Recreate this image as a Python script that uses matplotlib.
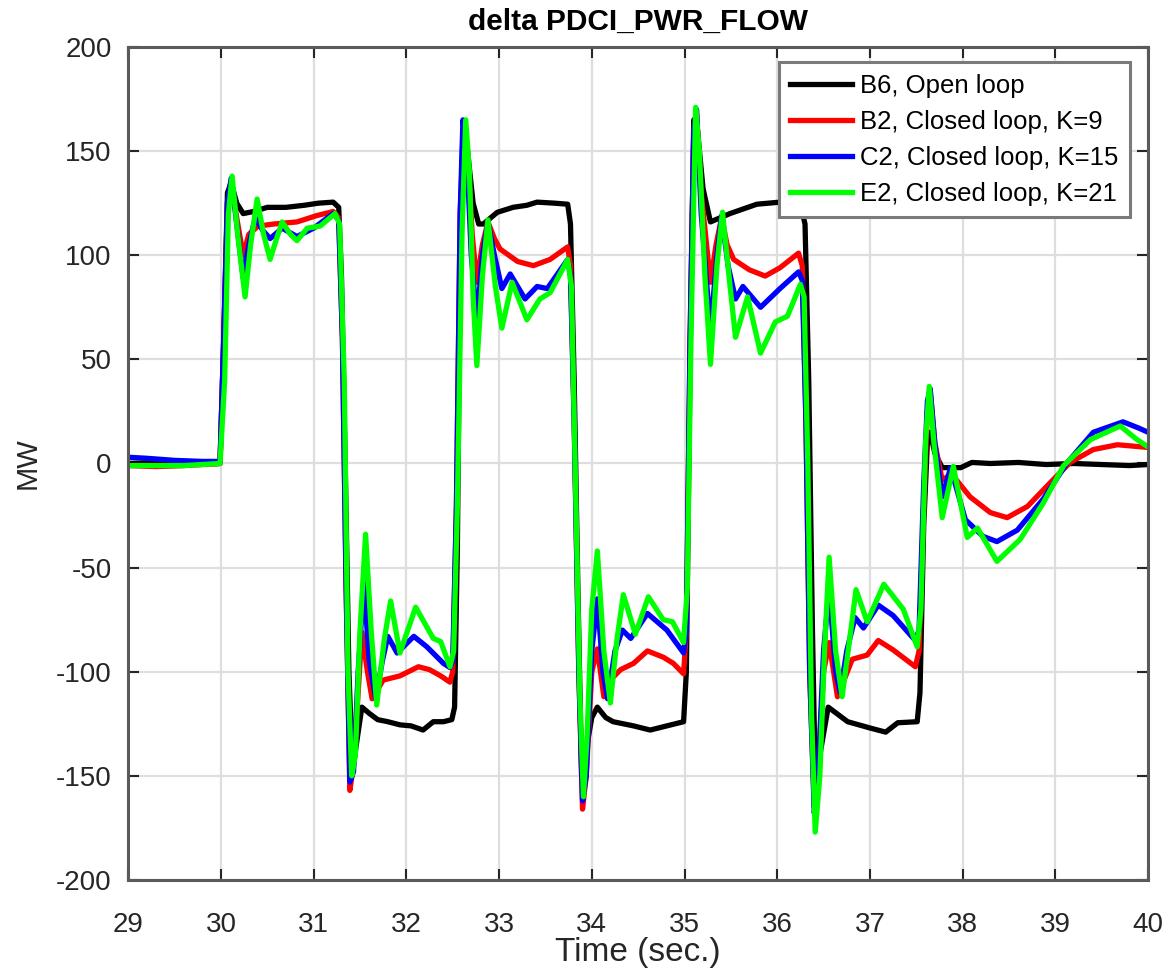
import matplotlib
matplotlib.use("Agg")
import matplotlib.pyplot as plt

# values (time in s, MW)
t_b6 = [29.0, 29.3, 29.6, 29.99, 30.03, 30.07, 30.11, 30.17, 30.24, 30.35, 30.5, 30.7, 30.9, 31.05, 31.21,
        31.27, 31.3, 31.34, 31.38, 31.42, 31.46, 31.52, 31.6, 31.69, 31.8, 31.93, 32.05, 32.18, 32.29, 32.4,
        32.49, 32.52, 32.55, 32.58, 32.61, 32.66, 32.72, 32.78, 32.83, 32.98, 33.15, 33.3, 33.41, 33.6, 33.74,
        33.77, 33.81, 33.85, 33.89, 33.93, 34.0, 34.06, 34.15, 34.23, 34.45, 34.63, 34.81, 34.99, 35.02, 35.06,
        35.1, 35.14, 35.2, 35.28, 35.49, 35.78, 36.03, 36.25, 36.3, 36.34, 36.38, 36.41, 36.46, 36.55, 36.76,
        37.0, 37.17, 37.3, 37.51, 37.54, 37.58, 37.62, 37.65, 37.7, 37.78, 37.98, 38.1, 38.3, 38.6, 38.9,
        39.2, 39.5, 39.8, 40.0]
v_b6 = [0, 0.5, -0.5, 0, 60, 130, 135, 125, 120, 121, 123, 123, 124, 125, 125.5,
        123, 90, 0, -100, -148, -135, -117, -120, -123, -124, -125.5, -126, -128, -124, -124,
        -123, -117, -40, 100, 160, 150, 125, 115, 115, 120.6, 123, 124, 125.5, 125, 124.5,
        115, 40, -60, -150, -140, -122, -117, -122, -124, -126, -128, -126, -124, -100, 50,
        165, 160, 132, 116, 120, 124.5, 125.5, 124.5, 115, 40, -80, -150, -140, -117, -124,
        -127, -129, -124.5, -124, -110, -30, 10, 15, 5, -2, -2, 0.5, 0, 0.5, -0.5,
        0, -0.5, -1, -0.5]

t_b2 = [29.0, 29.3, 29.6, 29.99, 30.03, 30.07, 30.11, 30.17, 30.24, 30.3, 30.4, 30.57, 30.82, 31.03, 31.21,
        31.27, 31.31, 31.35, 31.39, 31.43, 31.48, 31.52, 31.58, 31.63, 31.75, 31.93, 32.13, 32.25, 32.37, 32.47,
        32.5, 32.54, 32.58, 32.62, 32.66, 32.71, 32.76, 32.82, 32.88, 32.95, 33.01, 33.2, 33.37, 33.55, 33.74,
        33.77, 33.81, 33.86, 33.9, 33.94, 34.0, 34.06, 34.13, 34.2, 34.31, 34.45, 34.6, 34.77, 34.88, 34.99,
        35.02, 35.06, 35.1, 35.13, 35.18, 35.28, 35.34, 35.4, 35.46, 35.53, 35.7, 35.87, 36.03, 36.23, 36.27,
        36.31, 36.35, 36.4, 36.44, 36.5, 36.56, 36.65, 36.81, 36.97, 37.09, 37.25, 37.49, 37.53, 37.58, 37.62,
        37.65, 37.7, 37.78, 37.88, 38.08, 38.3, 38.48, 38.7, 38.95, 39.16, 39.41, 39.67, 40.0]
v_b2 = [-1, -1.5, -1, 0, 60, 125, 135, 118, 100, 110, 114, 115, 116, 119, 121,
        118, 60, -60, -157, -145, -110, -81, -100, -113, -104, -102, -97.6, -99, -102, -105,
        -100, -20, 120, 163, 150, 110, 87, 105, 116, 108, 103, 97, 95, 98, 104,
        95, 20, -100, -166, -150, -100, -89, -112, -104, -99, -96, -90, -93, -96, -101,
        -80, 60, 160, 168, 130, 87, 105, 118, 105, 98, 93, 90, 94, 101, 95,
        20, -100, -165, -150, -100, -86, -112, -94, -92, -85, -89.5, -97.6, -90, -20, 25,
        35, 10, -8, -5, -16, -23.6, -26, -20.6, -9, 0.5, 6.7, 9, 7.7]

t_c2 = [29.0, 29.2, 29.5, 29.8, 29.99, 30.03, 30.07, 30.11, 30.17, 30.24, 30.3, 30.37, 30.45, 30.53, 30.66,
        30.82, 31.0, 31.21, 31.27, 31.31, 31.35, 31.39, 31.43, 31.48, 31.54, 31.6, 31.67, 31.74, 31.8, 31.9,
        32.08, 32.22, 32.4, 32.47, 32.5, 32.54, 32.58, 32.61, 32.65, 32.7, 32.76, 32.82, 32.88, 32.95, 33.03,
        33.12, 33.28, 33.41, 33.52, 33.74, 33.77, 33.81, 33.86, 33.9, 33.94, 34.0, 34.06, 34.12, 34.17, 34.25,
        34.33, 34.42, 34.6, 34.81, 34.99, 35.02, 35.06, 35.1, 35.13, 35.18, 35.28, 35.35, 35.4, 35.47, 35.55,
        35.63, 35.82, 36.03, 36.23, 36.27, 36.31, 36.35, 36.4, 36.44, 36.5, 36.56, 36.63, 36.68, 36.75, 36.84,
        36.93, 37.09, 37.25, 37.49, 37.53, 37.58, 37.62, 37.65, 37.7, 37.78, 37.87, 38.03, 38.22, 38.37, 38.59,
        38.87, 39.13, 39.41, 39.73, 39.9, 40.0]
v_c2 = [3, 2.5, 1.5, 1, 1, 60, 125, 137, 115, 89, 105, 118, 112, 108, 113,
        109, 113, 120, 117, 60, -60, -153, -148, -100, -57, -95, -113, -95, -83, -91,
        -83, -88, -96, -98, -95, -20, 120, 165, 150, 100, 68, 100, 116, 100, 84,
        91, 79, 85, 84, 98, 90, 20, -100, -162, -150, -90, -65, -100, -113, -90,
        -80, -84, -72, -80, -91, -80, 60, 160, 170, 120, 64, 100, 119, 95, 79,
        85, 75, 84, 92, 88, 20, -100, -168, -150, -90, -60, -100, -110, -90, -74,
        -79, -68, -73, -85, -80, -10, 30, 36, 10, -16, -2, -27, -35, -37.5, -32,
        -17, 0.5, 15, 20, 17, 15]

t_e2 = [29.0, 29.3, 29.6, 29.99, 30.04, 30.08, 30.12, 30.18, 30.26, 30.32, 30.39, 30.46, 30.53, 30.6, 30.66,
        30.75, 30.82, 30.93, 31.07, 31.23, 31.28, 31.33, 31.37, 31.41, 31.45, 31.5, 31.56, 31.62, 31.68, 31.76,
        31.83, 31.93, 32.1, 32.29, 32.37, 32.47, 32.51, 32.55, 32.6, 32.64, 32.68, 32.72, 32.76, 32.82, 32.88,
        32.96, 33.03, 33.14, 33.3, 33.44, 33.55, 33.74, 33.78, 33.82, 33.87, 33.91, 33.95, 34.0, 34.06, 34.13,
        34.2, 34.27, 34.34, 34.47, 34.61, 34.77, 34.87, 34.99, 35.03, 35.07, 35.12, 35.16, 35.22, 35.28, 35.35,
        35.41, 35.48, 35.55, 35.68, 35.82, 35.98, 36.11, 36.25, 36.29, 36.33, 36.37, 36.41, 36.46, 36.51, 36.56,
        36.63, 36.7, 36.78, 36.85, 36.97, 37.15, 37.36, 37.51, 37.55, 37.6, 37.64, 37.69, 37.78, 37.9, 38.05,
        38.16, 38.37, 38.62, 38.87, 39.09, 39.38, 39.7, 39.88, 40.0]
v_e2 = [-1, -1, -1, 0, 40, 120, 138, 110, 80, 105, 127, 110, 98, 108, 116,
        110, 107, 113, 114, 120, 115, 40, -100, -150, -140, -80, -34, -80, -116, -85,
        -66, -91, -69, -84, -85.5, -97.6, -90, -20, 110, 165, 140, 80, 47, 90, 117,
        85, 65, 87, 69, 79, 82, 98, 85, 0, -110, -160, -130, -70, -42, -90,
        -115, -85, -63, -82, -64, -75, -76, -86, -60, 60, 171, 150, 90, 47.6, 95,
        120.7, 90, 60.6, 80, 53, 68, 70.7, 86, 80, 0, -120, -177, -150, -90, -45,
        -90, -112, -85, -60.6, -76, -58, -70, -88, -70, 10, 37, 10, -26, -1.4, -35.5,
        -31, -47, -36.5, -19, -1, 11.5, 18, 11.5, 8]

labels = ["B6, Open loop", "B2, Closed loop, K=9", "C2, Closed loop, K=15", "E2, Closed loop, K=21"]

plt.rcParams['font.family'] = ['Liberation Sans', 'DejaVu Sans']
plt.rcParams['axes.unicode_minus'] = False

fig = plt.figure(figsize=(11.66, 9.73), dpi=100)
ax = fig.add_axes([0.110, 0.0956, 0.8746, 0.8561])

lw = 3.8
ax.plot(t_b6, v_b6, color="black", lw=lw, label=labels[0])
ax.plot(t_b2, v_b2, color="#ff0000", lw=lw, label=labels[1])
ax.plot(t_c2, v_c2, color="#0000ff", lw=lw, label=labels[2])
ax.plot(t_e2, v_e2, color="#00ff00", lw=lw, label=labels[3])

ax.set_xlim(29, 40)
ax.set_ylim(-200, 200)
ax.set_xticks(range(29, 41))
ax.set_yticks(range(-200, 201, 50))
ax.grid(True, color="#dedede", lw=1.6)
ax.set_axisbelow(True)
ax.tick_params(direction="in", length=8, width=1.5, top=True, right=True,
               labelsize=20, colors="#262626")
ax.tick_params(axis="x", pad=23)
ax.tick_params(axis="y", pad=12)
for s in ax.spines.values():
    s.set_color("#5a5a5a")
    s.set_linewidth(2.2)

ax.set_title("delta PDCI_PWR_FLOW", fontsize=21.5, fontweight="bold", pad=12)
ax.set_xlabel("Time (sec.)", fontsize=24, color="#262626")
ax.xaxis.set_label_coords(0.5, -0.069)
ax.set_ylabel("MW", fontsize=21, color="#262626")
ax.yaxis.set_label_coords(-0.085, 0.5)

leg = ax.legend(loc="upper right", bbox_to_anchor=(0.982, 0.982), borderaxespad=0,
                fontsize=18.5, fancybox=False, framealpha=1, edgecolor="#7a7a7a",
                handlelength=2.4, handletextpad=0.3, labelspacing=0.47, borderpad=0.45)
leg.get_frame().set_linewidth(2.2)

fig.savefig("out.png", dpi=100)
